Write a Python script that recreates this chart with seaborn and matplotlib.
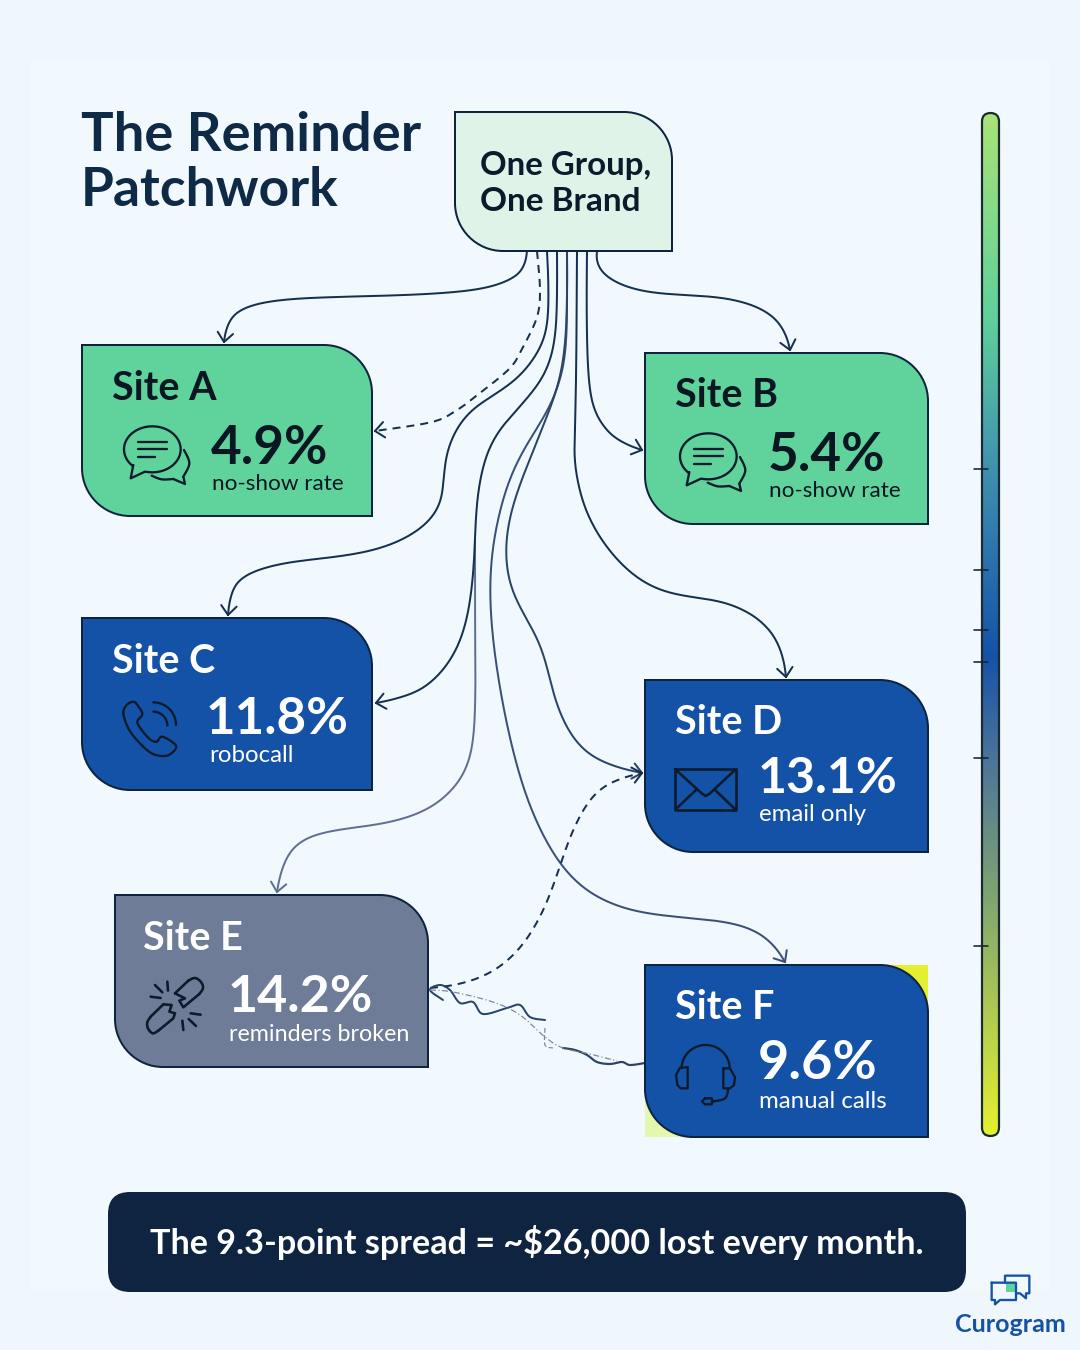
"""Recreate the reminder patchwork infographic."""

import matplotlib

matplotlib.use("Agg")

import matplotlib.pyplot as plt
import numpy as np
import seaborn as sns
from matplotlib.colors import LinearSegmentedColormap
from matplotlib.patches import FancyBboxPatch, PathPatch, Rectangle
from matplotlib.path import Path

# chart values
site_names = ["Site A", "Site B", "Site C", "Site D", "Site E", "Site F"]
site_rates = [4.9, 5.4, 11.8, 13.1, 14.2, 9.6]
site_notes = ["no-show rate", "no-show rate", "robocall", "email only", "reminders broken", "manual calls"]
site_fills = ["#5FD39B", "#5FD39B", "#1452A8", "#1452A8", "#6F7C97", "#1452A8"]
site_inks = ["#0A1622", "#0A1622", "white", "white", "white", "white"]
scale_tick_rows = [469, 570, 630, 662, 758, 946]
gradient_stops = [
    (0.00, "#A8E377"),
    (0.20, "#5FCF9B"),
    (0.35, "#3F8FAF"),
    (0.53, "#1452A8"),
    (0.63, "#4A7399"),
    (0.80, "#8CAF68"),
    (1.00, "#E4F02F"),
]

# layout, in reference pixels: box, name xy, rate xy, note xy
site_boxes = [
    (82, 345, 372, 516),
    (645, 353, 928, 524),
    (82, 618, 372, 790),
    (645, 680, 928, 852),
    (115, 895, 428, 1067),
    (645, 965, 928, 1137),
]
name_pos = [(112, 400), (675, 407), (112, 673), (675, 734), (143, 950), (675, 1019)]
rate_pos = [(211, 464), (768, 471), (206, 734), (758, 793), (228, 1012), (758, 1079)]
note_pos = [(212, 490), (769, 497), (209, 762), (759, 821), (229, 1041), (759, 1108)]
rate_sizes = [53, 53, 51, 50, 52, 54]
note_sizes = [22.5, 22.5, 24, 24, 23.3, 24]

DARK = "#0E2340"
LINE = "#16304F"

# connector route, colour, width, dash, arrow at end, soften
connectors = [
    ([(475, 540), (475, 640), (475, 730), (462, 780), (420, 815), (360, 827), (310, 835), (285, 858), (277, 892)],
     "#5F7190", 2.0, None, True, True),
    ([(527, 251), (523, 270), (503, 283), (463, 292), (380, 296), (300, 298), (250, 305), (229, 320), (224, 342)],
     LINE, 2.0, None, True, True),
    ([(537, 251), (540, 290), (537, 317), (523, 347), (510, 368), (480, 393), (457, 410), (432, 422), (375, 431)],
     LINE, 2.0, (4, 3), True, False),
    ([(547, 251), (549, 313), (540, 350), (513, 383), (480, 403), (457, 427), (445, 460), (443, 490), (430, 523),
      (375, 552), (300, 560), (250, 572), (232, 590), (228, 615)],
     LINE, 2.0, None, True, True),
    ([(557, 251), (557, 307), (553, 353), (537, 387), (510, 417), (487, 450), (477, 500), (475, 540), (468, 625),
      (440, 675), (410, 695), (376, 703)],
     LINE, 2.0, None, True, True),
    ([(567, 251), (567, 320), (563, 373), (543, 420), (513, 467), (493, 540), (490, 610), (500, 690), (520, 780),
      (550, 850), (590, 895), (650, 915), (720, 920), (765, 935), (785, 962)],
     "#3A5078", 2.0, None, True, True),
    ([(567, 251), (567, 307), (563, 367), (547, 417), (520, 483), (505, 540), (512, 595), (540, 640), (552, 690),
      (570, 735), (600, 762), (642, 773)],
     "#2A4468", 2.0, None, True, True),
    ([(577, 251), (576, 407), (574, 453), (580, 493), (600, 540), (650, 590), (710, 598), (755, 615), (780, 645),
      (786, 677)],
     LINE, 2.0, None, True, True),
    ([(587, 251), (587, 373), (597, 417), (617, 440), (642, 450)], LINE, 2.0, None, True, True),
    ([(597, 251), (598, 268), (620, 285), (660, 294), (710, 296), (755, 305), (782, 325), (790, 350)],
     LINE, 2.0, None, True, True),
    ([(430, 988), (480, 980), (525, 945), (552, 890), (565, 850), (585, 805), (610, 782), (642, 773)],
     LINE, 2.0, (4, 3), True, True),
    ([(443, 1000), (430, 990), (440, 985), (450, 990), (460, 1003), (473, 1002), (483, 1014), (507, 1008), (520, 1005),
      (530, 1017), (545, 1020)],
     "#2A4468", 2.0, None, False, False),
    ([(563, 1048), (575, 1050), (587, 1055), (597, 1062), (610, 1064), (622, 1062), (630, 1065), (645, 1063)],
     "#2A4468", 2.2, None, False, False),
    ([(430, 990), (453, 992), (493, 1002), (520, 1015), (545, 1037), (563, 1048), (590, 1054), (617, 1061)],
     "#7B8798", 1.2, (5, 2, 1, 2), False, False),
    ([(545, 1028), (545, 1045), (553, 1048)], "#7B8798", 1.2, (4, 2), False, False),
]


def px(size):
    return size * 72 / 100


def smooth(points, closed=False, steps=24):
    """Catmull-Rom curve through the given points."""
    pts = np.asarray(points, dtype=float)
    if closed:
        pts = np.vstack([pts[-1], pts, pts[0], pts[1]])
    else:
        pts = np.vstack([pts[0], pts, pts[-1]])
    out = []
    for i in range(1, len(pts) - 2):
        p0, p1, p2, p3 = pts[i - 1], pts[i], pts[i + 1], pts[i + 2]
        for t in np.linspace(0, 1, steps, endpoint=False):
            out.append(
                0.5 * (2 * p1 + (p2 - p0) * t + (2 * p0 - 5 * p1 + 4 * p2 - p3) * t**2
                       + (3 * p1 - p0 - 3 * p2 + p3) * t**3)
            )
    out.append(pts[-2])
    return np.array(out)


def soften(curve, window=31):
    """Take the kinks out of a route, keeping both ends where they are."""
    half = window // 2
    head = 2 * curve[0] - curve[half:0:-1]
    tail = 2 * curve[-1] - curve[-2:-half - 2:-1]
    padded = np.vstack([head, curve, tail])
    kernel = np.ones(window) / window
    return np.column_stack([np.convolve(padded[:, k], kernel, mode="valid") for k in (0, 1)])


def draw_line(ax, xy, color=LINE, width=2.0, dash=None, zorder=3):
    xy = np.asarray(xy, dtype=float)
    kwargs = {"dashes": dash} if dash else {}
    sns.lineplot(x=xy[:, 0], y=xy[:, 1], sort=False, estimator=None, ax=ax, color=color, linewidth=px(width),
                 legend=False, zorder=zorder, solid_capstyle="round", **kwargs)


def draw_arrowhead(ax, curve, color, size=12):
    tip = curve[-1]
    back = curve[-8] - tip
    base = np.arctan2(back[1], back[0])
    for offset in (-0.7, 0.7):
        end = tip + size * np.array([np.cos(base + offset), np.sin(base + offset)])
        draw_line(ax, [end, tip], color=color, width=2.0)


def draw_card(ax, box, fill, radius=48, edge=DARK, zorder=5):
    x0, y0, x1, y1 = box
    k = radius * 0.45
    verts = [
        (x0, y0), (x1 - radius, y0),
        (x1 - k, y0), (x1, y0 + k), (x1, y0 + radius),
        (x1, y1), (x0 + radius, y1),
        (x0 + k, y1), (x0, y1 - k), (x0, y1 - radius),
        (x0, y0),
    ]
    codes = [Path.MOVETO, Path.LINETO, Path.CURVE4, Path.CURVE4, Path.CURVE4, Path.LINETO, Path.LINETO,
             Path.CURVE4, Path.CURVE4, Path.CURVE4, Path.CLOSEPOLY]
    ax.add_patch(PathPatch(Path(verts, codes), facecolor=fill, edgecolor=edge, linewidth=px(2), zorder=zorder,
                           joinstyle="miter"))


def label(ax, x, y, text, size, color, weight="normal", **kwargs):
    ax.text(x, y, text, fontsize=px(size), color=color, fontweight=weight, va="baseline", zorder=8, **kwargs)


def icon_line(ax, pts, origin, curve=False, closed=False, color="#0B1B2B", width=2.3):
    xy = np.asarray(pts, dtype=float) / 3 + np.asarray(origin)
    if curve:
        xy = smooth(xy, closed=closed, steps=10)
    draw_line(ax, xy, color=color, width=width, zorder=7)


def arc_points(cx, cy, rx, ry, start, stop, n=60):
    t = np.radians(np.linspace(start, stop, n))
    return np.column_stack([cx + rx * np.cos(t), cy + ry * np.sin(t)])


def chat_icon(ax, origin):
    body = arc_points(157, 118, 85, 69, 134, 460)
    icon_line(ax, np.vstack([body, [(135, 185), (92, 205), (100, 165)]]), origin)
    icon_line(ax, [(252, 120), (268, 160), (250, 200)], origin, curve=True)
    icon_line(ax, [(250, 200), (255, 222), (220, 207)], origin)
    icon_line(ax, [(220, 207), (185, 208), (155, 197)], origin, curve=True)
    icon_line(ax, [(115, 97), (200, 97)], origin)
    icon_line(ax, [(115, 118), (200, 118)], origin)
    icon_line(ax, [(115, 140), (165, 140)], origin)


def phone_icon(ax, origin, color="#0B1B2B"):
    outline = [(55, 70), (65, 45), (85, 35), (97, 45), (112, 72), (97, 95), (110, 120), (135, 148), (155, 155),
               (172, 140), (212, 165), (205, 185), (180, 198), (140, 190), (100, 155), (70, 115)]
    icon_line(ax, outline, origin, curve=True, closed=True, color=color)
    icon_line(ax, arc_points(145, 105, 68, 68, -90, 0), origin, color=color)
    icon_line(ax, arc_points(145, 107, 42, 42, -90, 0), origin, color=color)


def envelope_icon(ax, origin, color="#0B1B2B"):
    icon_line(ax, [(45, 57), (228, 57), (228, 180), (45, 180), (45, 57)], origin, color=color, width=2.6)
    icon_line(ax, [(45, 57), (125, 130), (137, 138), (150, 130), (228, 57)], origin, color=color, width=2.6)
    icon_line(ax, [(110, 118), (47, 178)], origin, color=color, width=2.6)
    icon_line(ax, [(163, 118), (226, 178)], origin, color=color, width=2.6)


def broken_link_icon(ax, origin, color="#0B1B2B"):
    icon_line(ax, [(135, 100), (175, 62)], origin, color=color, width=2.6)
    icon_line(ax, [(175, 62), (195, 54), (213, 66), (219, 84), (208, 102)], origin, curve=True, color=color, width=2.6)
    icon_line(ax, [(208, 102), (160, 142), (148, 122), (165, 115), (135, 100)], origin, color=color, width=2.6)
    icon_line(ax, [(100, 133), (125, 135), (118, 155), (135, 160), (130, 175), (85, 212)], origin, color=color,
              width=2.6)
    icon_line(ax, [(85, 212), (68, 220), (54, 205), (52, 187), (62, 170)], origin, curve=True, color=color, width=2.6)
    icon_line(ax, [(62, 170), (100, 133)], origin, color=color, width=2.6)
    for ray in [((75, 75), (97, 97)), ((112, 65), (114, 92)), ((62, 110), (92, 114)), ((182, 160), (212, 164)),
                ((176, 177), (198, 198)), ((157, 182), (160, 210))]:
        icon_line(ax, ray, origin, color=color, width=2.6)


def headset_icon(ax, origin, color="#0B1B2B"):
    icon_line(ax, arc_points(197, 325, 72, 70, 180, 360), origin, color=color)
    icon_line(ax, [(143, 322), (120, 323), (108, 345), (112, 375), (122, 385), (143, 385), (143, 322)], origin,
              color=color)
    icon_line(ax, [(250, 325), (270, 325), (285, 352), (282, 375), (270, 385), (250, 385), (250, 325)], origin,
              color=color)
    icon_line(ax, [(265, 385), (255, 415), (215, 425)], origin, curve=True, color=color)
    icon_line(ax, [(195, 415), (215, 415), (218, 424), (215, 433), (195, 433), (186, 424), (195, 415)], origin,
              color=color)


def logo_icon(ax, origin, color="#1452A8"):
    ox, oy = origin
    ax.add_patch(Rectangle((ox + 197 / 3, oy + 70 / 3), 28 / 3, 27 / 3, facecolor="#5FD39B", edgecolor="none",
                           zorder=6))
    icon_line(ax, [(195, 68), (195, 47), (268, 47), (268, 100), (258, 100), (258, 115), (240, 100), (228, 100)],
              origin, color=color)
    icon_line(ax, [(155, 68), (228, 68), (228, 120), (180, 120), (165, 133), (165, 120), (155, 120), (155, 68)],
              origin, color=color)


sns.set_theme(style="white")
plt.rcParams["font.family"] = ["Lato", "DejaVu Sans"]

fig = plt.figure(figsize=(10.8, 13.5), dpi=100, facecolor="#EFF7FC")
ax = fig.add_axes([0, 0, 1, 1], zorder=1)
ax.set_xlim(0, 1080)
ax.set_ylim(1350, 0)
ax.set_autoscale_on(False)
ax.axis("off")

ax.add_patch(Rectangle((30, 60), 1020, 1230, facecolor="#F2F9FE", edgecolor="none", zorder=0))

for route, color, width, dash, arrow, soft in connectors:
    curve = smooth(route)
    if soft:
        curve = soften(curve)
    draw_line(ax, curve, color=color, width=width, dash=dash)
    if arrow:
        draw_arrowhead(ax, curve, color)

# title and the group box
label(ax, 81, 151, "The Reminder", 54.4, "#0F2A47", weight="bold")
label(ax, 81, 206, "Patchwork", 53.4, "#0F2A47", weight="bold")
draw_card(ax, (455, 112, 672, 251), "#DFF3E8")
label(ax, 480, 175, "One Group,", 33, "#0B1B2B", weight="bold")
label(ax, 480, 211, "One Brand", 33.4, "#0B1B2B", weight="bold")

# site F sits on a lime block that shows through its rounded corners
fx0, fy0, fx1, fy1 = site_boxes[5]
ax.add_patch(Rectangle((fx1 - 40, fy0), 40, 40, facecolor="#E4F02F", edgecolor="none", zorder=4))
ax.add_patch(Rectangle((fx0, fy1 - 40), 40, 40, facecolor="#E4F7AF", edgecolor="none", zorder=4))

for i, name in enumerate(site_names):
    draw_card(ax, site_boxes[i], site_fills[i])
    label(ax, *name_pos[i], name, 39.5, site_inks[i], weight="bold")
    label(ax, *rate_pos[i], f"{site_rates[i]}%", rate_sizes[i], site_inks[i], weight="bold")
    label(ax, *note_pos[i], site_notes[i], note_sizes[i], site_inks[i])

chat_icon(ax, (100, 410))
chat_icon(ax, (656, 417))
phone_icon(ax, (105, 690))
envelope_icon(ax, (660, 750))
broken_link_icon(ax, (130, 960))
headset_icon(ax, (640, 960))

# takeaway banner
ax.add_patch(FancyBboxPatch((108, 1192), 858, 100, boxstyle="round,pad=0,rounding_size=22", facecolor="#0E2440",
                            edgecolor="none", zorder=5))
label(ax, 150, 1254, "The 9.3-point spread = ~$26,000 lost every month.", 34.2, "white", weight="bold")

# logo
logo_icon(ax, (940, 1260))
label(ax, 1010.5, 1332, "Curogram", 25, "#1452A8", weight="bold", ha="center")

# gradient scale on the right
bar_box = (982, 113, 17, 1023)
bar_ax = fig.add_axes([bar_box[0] / 1080, 1 - (bar_box[1] + bar_box[3]) / 1350, bar_box[2] / 1080, bar_box[3] / 1350],
                      zorder=2)
scale_cmap = LinearSegmentedColormap.from_list("scale", gradient_stops)
sns.heatmap(np.linspace(0, 1, 512).reshape(-1, 1), cmap=scale_cmap, cbar=False, vmin=0, vmax=1, ax=bar_ax,
            xticklabels=False, yticklabels=False)
bar_ax.axis("off")
outline = FancyBboxPatch((bar_box[0], bar_box[1]), bar_box[2], bar_box[3],
                         boxstyle=f"round,pad=0,rounding_size={bar_box[2] / 2}", facecolor="none", edgecolor="#1A2A30",
                         linewidth=px(2.2), transform=ax.transData, clip_on=False, zorder=5)
bar_ax.collections[0].set_clip_path(outline)
bar_ax.add_patch(outline)
for row in scale_tick_rows:
    bar_ax.plot([974, 988], [row, row], color="#16232F", linewidth=px(1.6), transform=ax.transData, clip_on=False,
                zorder=6)

fig.savefig("out.png", dpi=100)
plt.close(fig)
